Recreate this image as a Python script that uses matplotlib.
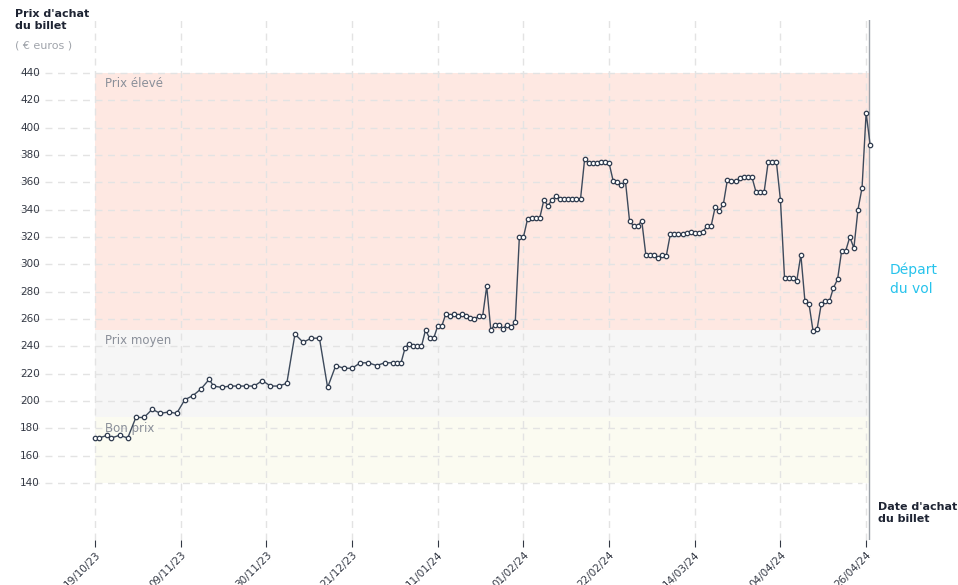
import matplotlib
matplotlib.use("Agg")
import matplotlib.pyplot as plt

days = [0,1,3,4,6,8,10,12,14,16,18,20,22,24,26,28,29,31,33,35,37,39,41,43,45,47,49,51,53,55,57,59,61,
        63,65,67,69,71,73] + list(range(74, 191))
prices = [173,173,175,173,175,173,188,188,194,191,192,191,201,204,209,216,211,210,211,211,211,211,215,211,211,213,249,243,246,246,210,226,224,
          224,228,228,226,228,228,
          228,228,239,242,240,240,240,252,246,246,255,255,264,262,264,262,264,262,261,260,262,262,284,252,256,256,253,   # 74-100
          256,254,258,320,320,333,334,334,334,347,343,347,350,348,348,348,348,348,348,377,374,374,374,375,375,       # 101-125
          374,361,360,358,361,332,328,328,332,307,307,307,305,307,306,322,322,322,322,323,324,323,323,324,328,       # 126-150
          328,342,339,344,362,361,361,363,364,364,364,353,353,353,375,375,375,347,290,290,290,288,307,273,271,       # 151-175
          251,253,271,273,273,283,289,310,310,320,312,340,356,411,387]                                               # 176-190
ytick_vals = list(range(140, 441, 20))
xtick_days = [0,21,42,63,84,105,126,147,168,189]
xtick_labels = ["19/10/23","09/11/23","30/11/23","21/12/23","11/01/24","01/02/24","22/02/24","14/03/24","04/04/24","26/04/24"]
bands = [(140,188,"#fbfbf1","Bon prix"),(188,252,"#f6f6f6","Prix moyen"),(252,440,"#fee8e2","Prix élevé")]

W, H = 958, 585
fig = plt.figure(figsize=(W/100, H/100), dpi=100)
ax = fig.add_axes([20/W, 45/H, 860/W, 520/H])
x0, x1 = -18.4, 192.4
ax.set_xlim(x0, x1)
ax.set_ylim(440 - (540-73)/1.367, 440 + (73-20)/1.367)
for s in ax.spines.values():
    s.set_visible(False)

for lo, hi, c, lab in bands:
    ax.fill_between([0, 189.6], lo, hi, color=c, zorder=0, lw=0)
    ax.text(2.5, hi - 3, lab, color="#8a8f99", fontsize=8.5, va="top", ha="left", zorder=1)

for v in ytick_vals:
    ax.hlines(v, x0, 188, colors="#e3e3e3", linestyles=(0,(5,4)), lw=1, zorder=0.5)
    ax.text(x0, v, str(v), fontsize=7.5, color="#333844", va="center", ha="left")
for d in xtick_days:
    ax.axvline(d, color="#e3e3e3", ls=(0,(5,4)), lw=1, zorder=0.5)
ax.axvline(189.6, color="#9aa0a8", lw=1, zorder=2)

ax.set_yticks([])
ax.set_xticks(xtick_days)
ax.set_xticklabels(xtick_labels, rotation=45, ha="right", rotation_mode="anchor", fontsize=7.5, color="#333844")
ax.tick_params(axis="x", length=5, color="#333844", pad=2)

ax.plot(days, prices, color="#3d4a5c", lw=1, marker="o", ms=3.2, mfc="white", mec="#2f3b4e", mew=0.9, zorder=3)

fig.text(15/W, 1-20/H, "Prix d'achat\ndu billet", fontsize=8, fontweight="bold", color="#1e2433", va="center", ha="left", linespacing=1.3)
fig.text(15/W, 1-46/H, "( € euros )", fontsize=8, color="#a0a4ab", va="center", ha="left")
fig.text(878/W, 1-513/H, "Date d'achat\ndu billet", fontsize=8, fontweight="bold", color="#1e2433", va="center", ha="left", linespacing=1.3)
fig.text(890/W, 1-279/H, "Départ\ndu vol", fontsize=10, color="#27c3ec", va="center", ha="left", linespacing=1.5)

fig.savefig("out.png", dpi=100)
